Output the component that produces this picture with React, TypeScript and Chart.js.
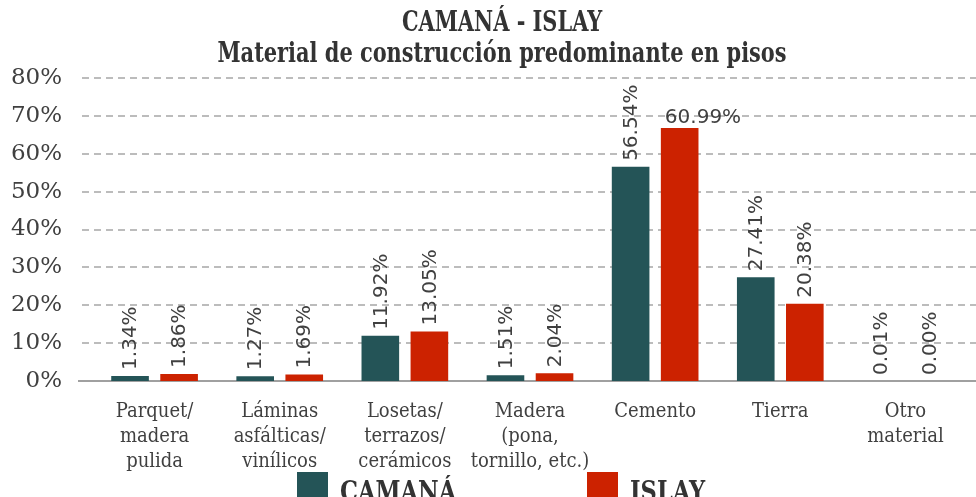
import React, { useEffect, useRef } from "react";
import { Chart, registerables } from "chart.js";

Chart.register(...registerables);

const titleLines = ["CAMANÁ - ISLAY", "Material de construcción predominante en pisos"];
const categories = [
  ["Parquet/", "madera", "pulida"],
  ["Láminas", "asfálticas/", "vinílicos"],
  ["Losetas/", "terrazos/", "cerámicos"],
  ["Madera", "(pona,", "tornillo, etc.)"],
  ["Cemento"],
  ["Tierra"],
  ["Otro", "material"],
];
const seriesNames = ["CAMANÁ", "ISLAY"];
const seriesColors = ["#245457", "#CC2200"];
const camanaValues = [1.34, 1.27, 11.92, 1.51, 56.54, 27.41, 0.01];
const islayValues = [1.86, 1.69, 13.05, 2.04, 66.8, 20.38, 0.0];
const camanaLabels = ["1.34%", "1.27%", "11.92%", "1.51%", "56.54%", "27.41%", "0.01%"];
const islayLabels = ["1.86%", "1.69%", "13.05%", "2.04%", "60.99%", "20.38%", "0.00%"];
const yTicks = [0, 10, 20, 30, 40, 50, 60, 70, 80];
// label drawn horizontally in the reference: [dataset, index]
const horizontalLabel = [1, 4];

const SERIF_C = '"DejaVu Serif Condensed", "DejaVu Serif", serif';
const TEXT = "#404040";

export default function App() {
  const ref = useRef<HTMLCanvasElement | null>(null);

  useEffect(() => {
    if (!ref.current) return;
    const labelsBySeries = [camanaLabels, islayLabels];

    const decor = {
      id: "decor",
      beforeDatasetsDraw(chart: any) {
        const ctx = chart.ctx;
        const y = chart.scales.y;
        ctx.save();
        ctx.strokeStyle = "#a6a6a6";
        ctx.lineWidth = 1.5;
        ctx.setLineDash([7, 5]);
        yTicks.forEach((v) => {
          if (v === 0) return;
          const py = Math.round(y.getPixelForValue(v));
          ctx.beginPath();
          ctx.moveTo(82, py);
          ctx.lineTo(976, py);
          ctx.stroke();
        });
        ctx.setLineDash([]);
        ctx.strokeStyle = "#808080";
        ctx.lineWidth = 1.5;
        const p0 = Math.round(y.getPixelForValue(0));
        ctx.beginPath();
        ctx.moveTo(78, p0);
        ctx.lineTo(976, p0);
        ctx.stroke();
        ctx.restore();
      },
      afterDatasetsDraw(chart: any) {
        const ctx = chart.ctx;
        ctx.save();
        ctx.fillStyle = TEXT;
        ctx.font = '20px "DejaVu Sans", sans-serif';
        chart.data.datasets.forEach((ds: any, di: number) => {
          const meta = chart.getDatasetMeta(di);
          meta.data.forEach((bar: any, i: number) => {
            const txt = labelsBySeries[di][i];
            if (di === horizontalLabel[0] && i === horizontalLabel[1]) {
              ctx.textAlign = "left";
              ctx.textBaseline = "alphabetic";
              ctx.fillText(txt, bar.x - bar.width / 2 + 4, bar.y - 5);
            } else {
              ctx.save();
              ctx.translate(bar.x + 1, bar.y - 6);
              ctx.rotate(-Math.PI / 2);
              ctx.textAlign = "left";
              ctx.textBaseline = "middle";
              ctx.fillText(txt, 0, 0);
              ctx.restore();
            }
          });
        });
        ctx.restore();
      },
      afterDraw(chart: any) {
        const ctx = chart.ctx;
        ctx.save();
        // title
        ctx.fillStyle = "#333333";
        ctx.textAlign = "center";
        ctx.textBaseline = "alphabetic";
        ctx.font = "bold 27px " + SERIF_C;
        const drawScaled = (t: string, x: number, y: number, sx: number) => {
          ctx.save();
          ctx.translate(x, y);
          ctx.scale(sx, 1);
          ctx.fillText(t, 0, 0);
          ctx.restore();
        };
        drawScaled(titleLines[0], 502, 31, 0.86);
        drawScaled(titleLines[1], 502, 62, 0.86);
        // legend
        const legendX = [297, 587];
        seriesNames.forEach((name, i) => {
          ctx.fillStyle = seriesColors[i];
          ctx.fillRect(legendX[i], 472, 31, 31);
          ctx.fillStyle = "#333333";
          ctx.textAlign = "left";
          ctx.font = "bold 27px " + SERIF_C;
          ctx.save();
          ctx.translate(legendX[i] + 43, 501);
          ctx.scale(0.93, 1);
          ctx.fillText(name, 0, 0);
          ctx.restore();
        });
        ctx.restore();
      },
    };

    const chart = new Chart(ref.current, {
      type: "bar",
      data: {
        labels: categories as any,
        datasets: [
          {
            label: seriesNames[0],
            data: camanaValues,
            backgroundColor: seriesColors[0],
            categoryPercentage: 0.784,
            barPercentage: 0.767,
          },
          {
            label: seriesNames[1],
            data: islayValues,
            backgroundColor: seriesColors[1],
            categoryPercentage: 0.784,
            barPercentage: 0.767,
          },
        ],
      },
      options: {
        animation: false,
        responsive: true,
        maintainAspectRatio: false,
        layout: { padding: { top: 78, right: 8, bottom: 0, left: 0 } },
        plugins: {
          legend: { display: false },
          title: { display: false },
          tooltip: { enabled: false },
        },
        scales: {
          x: {
            grid: { display: false },
            border: { display: false },
            ticks: {
              color: TEXT,
              padding: 10,
              maxRotation: 0,
              autoSkip: false,
              font: { family: SERIF_C, size: 20, lineHeight: 1.25 },
            },
            afterFit: (s: any) => {
              s.height = 116;
            },
          },
          y: {
            min: 0,
            max: 80,
            grid: { display: false, drawTicks: false },
            border: { display: false },
            ticks: {
              stepSize: 10,
              padding: 30,
              color: TEXT,
              font: { family: '"DejaVu Serif", serif', size: 23 },
              callback: (v: any) => v + "%",
            },
            afterFit: (s: any) => {
              s.width = 92;
            },
          },
        },
      },
      plugins: [decor],
    });
    return () => chart.destroy();
  }, []);

  return (
    <div style={{ position: "fixed", left: 0, top: 0, width: 976, height: 497, background: "#fff" }}>
      <canvas ref={ref} />
    </div>
  );
}
